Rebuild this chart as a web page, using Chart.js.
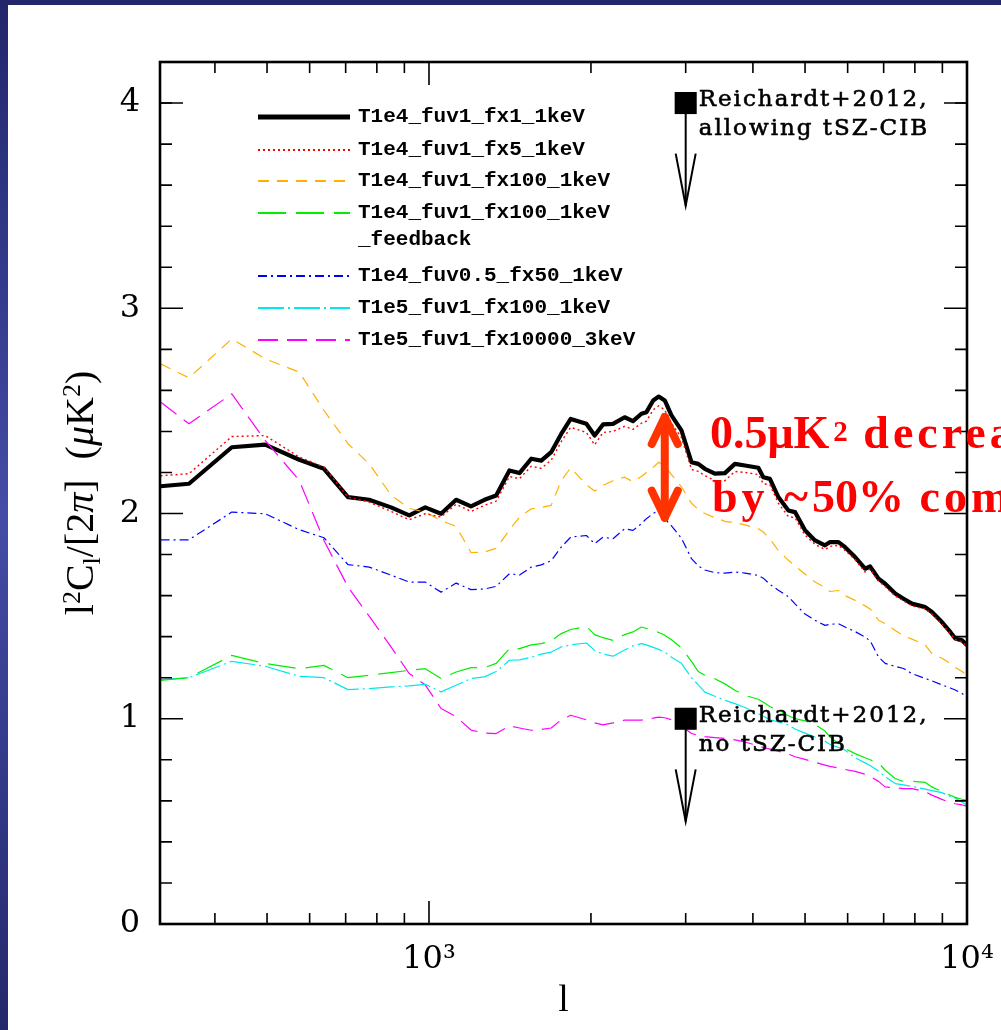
<!DOCTYPE html>
<html><head><meta charset="utf-8">
<script src="https://cdn.jsdelivr.net/npm/chart.js@4.4.1/dist/chart.umd.min.js"></script>
<style>html,body{margin:0;padding:0;background:#fff;overflow:hidden}canvas{display:block}</style>
</head><body>
<canvas id="c" width="1001" height="1030"></canvas>
<script>
// ---------- data ----------
const lValues = [317, 358, 430, 496, 574, 638, 707, 774, 850, 919, 984, 1053, 1123, 1197, 1268, 1333, 1411, 1473, 1549, 1617, 1687, 1761, 1834, 1961, 2032, 2106, 2198, 2310, 2394, 2482, 2536, 2610, 2673, 2743, 2823, 2946, 3075, 3166, 3256, 3399, 3548, 3703, 3866, 4094, 4182, 4302, 4460, 4656, 4790, 4999, 5218, 5446, 5566, 5769, 5935, 6194, 6465, 6605, 6847, 7045, 7354, 7623, 7899, 8363, 8606, 8982, 9309, 9510, 9788, 10000];

const T1e4_fuv1_fx1_1keV = [2.133, 2.145, 2.323, 2.336, 2.262, 2.218, 2.080, 2.067, 2.030, 1.991,
  2.030, 1.999, 2.067, 2.035, 2.067, 2.088, 2.210, 2.197, 2.267, 2.258,
  2.299, 2.388, 2.461, 2.437, 2.380, 2.434, 2.437, 2.469, 2.450, 2.486,
  2.494, 2.551, 2.570, 2.551, 2.478, 2.405, 2.250, 2.242, 2.218, 2.194,
  2.197, 2.242, 2.234, 2.223, 2.177, 2.169, 2.080, 2.015, 2.007, 1.918,
  1.869, 1.845, 1.861, 1.861, 1.836, 1.788, 1.731, 1.742, 1.683, 1.658,
  1.610, 1.585, 1.561, 1.544, 1.520, 1.471, 1.423, 1.391, 1.382, 1.358];

const T1e4_fuv1_fx5_1keV = [2.184, 2.194, 2.375, 2.380, 2.275, 2.226, 2.080, 2.056, 2.010, 1.970,
  1.999, 1.983, 2.045, 2.010, 2.040, 2.060, 2.180, 2.170, 2.230, 2.220,
  2.260, 2.350, 2.420, 2.395, 2.335, 2.395, 2.400, 2.425, 2.410, 2.440,
  2.450, 2.505, 2.525, 2.505, 2.440, 2.370, 2.215, 2.205, 2.185, 2.160,
  2.160, 2.205, 2.200, 2.190, 2.145, 2.140, 2.050, 1.985, 1.980, 1.895,
  1.850, 1.825, 1.840, 1.845, 1.820, 1.775, 1.715, 1.730, 1.670, 1.645,
  1.598, 1.575, 1.550, 1.535, 1.510, 1.462, 1.415, 1.385, 1.375, 1.352];

const T1e4_fuv1_fx100_1keV = [2.729, 2.661, 2.851, 2.754, 2.689, 2.502, 2.340, 2.242, 2.090, 2.025,
  2.007, 1.966, 1.937, 1.810, 1.812, 1.830, 1.920, 1.982, 2.023, 2.030,
  2.040, 2.160, 2.223, 2.140, 2.110, 2.137, 2.160, 2.177, 2.155, 2.180,
  2.200, 2.225, 2.250, 2.230, 2.190, 2.130, 2.050, 2.020, 2.000, 1.980,
  1.962, 1.955, 1.945, 1.926, 1.910, 1.875, 1.820, 1.772, 1.745, 1.705,
  1.666, 1.640, 1.620, 1.625, 1.600, 1.577, 1.550, 1.535, 1.480, 1.463,
  1.430, 1.405, 1.388, 1.360, 1.317, 1.295, 1.270, 1.250, 1.230, 1.212];

const T1e4_fuv1_fx100_1keV_feedback = [1.187, 1.200, 1.309, 1.269, 1.244, 1.260, 1.200, 1.212, 1.225, 1.236,
  1.244, 1.196, 1.228, 1.249, 1.249, 1.270, 1.342, 1.342, 1.360, 1.366,
  1.380, 1.415, 1.435, 1.450, 1.410, 1.395, 1.382, 1.410, 1.423, 1.447,
  1.440, 1.432, 1.420, 1.407, 1.385, 1.345, 1.280, 1.230, 1.212, 1.195,
  1.170, 1.139, 1.114, 1.095, 1.080, 1.060, 1.040, 1.015, 1.001, 0.990,
  0.972, 0.940, 0.910, 0.880, 0.855, 0.830, 0.810, 0.800, 0.785, 0.749,
  0.709, 0.694, 0.695, 0.690, 0.668, 0.645, 0.627, 0.617, 0.608, 0.603];

const T1e4_fuv05_fx50_1keV = [1.872, 1.872, 2.007, 1.999, 1.921, 1.882, 1.751, 1.739, 1.700, 1.666,
  1.666, 1.617, 1.661, 1.629, 1.632, 1.645, 1.707, 1.700, 1.739, 1.750,
  1.770, 1.836, 1.885, 1.893, 1.853, 1.885, 1.877, 1.926, 1.918, 1.950,
  1.975, 2.000, 2.015, 1.975, 1.940, 1.880, 1.780, 1.745, 1.725, 1.712,
  1.710, 1.715, 1.710, 1.698, 1.685, 1.655, 1.626, 1.595, 1.560, 1.510,
  1.480, 1.455, 1.460, 1.463, 1.447, 1.425, 1.398, 1.380, 1.301, 1.270,
  1.255, 1.245, 1.220, 1.196, 1.185, 1.165, 1.150, 1.140, 1.123, 1.106];

const T1e5_fuv1_fx100_1keV = [1.191, 1.200, 1.280, 1.256, 1.207, 1.200, 1.142, 1.147, 1.155, 1.160,
  1.168, 1.131, 1.163, 1.196, 1.204, 1.230, 1.285, 1.287, 1.300, 1.315,
  1.325, 1.350, 1.360, 1.369, 1.333, 1.315, 1.305, 1.335, 1.355, 1.366,
  1.360, 1.348, 1.338, 1.325, 1.300, 1.270, 1.200, 1.165, 1.130, 1.110,
  1.090, 1.074, 1.055, 1.025, 1.012, 0.995, 0.985, 0.970, 0.950, 0.930,
  0.911, 0.890, 0.875, 0.860, 0.847, 0.810, 0.785, 0.772, 0.745, 0.717,
  0.684, 0.678, 0.670, 0.657, 0.650, 0.640, 0.622, 0.612, 0.595, 0.579];

const T1e5_fuv1_fx10000_3keV = [2.543, 2.437, 2.583, 2.356, 2.161, 1.869, 1.642, 1.500, 1.350, 1.220,
  1.165, 1.050, 1.010, 0.945, 0.930, 0.928, 0.965, 0.955, 0.944, 0.948,
  0.955, 0.995, 1.017, 0.995, 0.980, 0.970, 0.980, 0.993, 0.993, 0.993,
  0.998, 1.003, 1.008, 1.005, 0.995, 0.965, 0.928, 0.920, 0.913, 0.908,
  0.904, 0.897, 0.887, 0.868, 0.860, 0.852, 0.842, 0.828, 0.815, 0.802,
  0.788, 0.774, 0.768, 0.760, 0.753, 0.744, 0.730, 0.719, 0.695, 0.668,
  0.663, 0.660, 0.660, 0.645, 0.628, 0.607, 0.592, 0.586, 0.580, 0.574];

const seriesLabels = ['T1e4_fuv1_fx1_1keV', 'T1e4_fuv1_fx5_1keV', 'T1e4_fuv1_fx100_1keV',
  'T1e4_fuv1_fx100_1keV\n_feedback', 'T1e4_fuv0.5_fx50_1keV', 'T1e5_fuv1_fx100_1keV', 'T1e5_fuv1_fx10000_3keV'];

// Reichardt+2012 upper limits
const limitL = [3000, 3000];
const limitValue = [4.0, 1.0];
const limitTip = [3.5, 0.5];
const limitText = [['Reichardt+2012,', 'allowing tSZ-CIB'], ['Reichardt+2012,', 'no tSZ-CIB']];

// decrease arrow + text
const decreaseL = 2743;
const decreaseTop = 2.485;
const decreaseBottom = 1.965;
const decreaseLine1 = ['0.5\u03bcK', '2', ' decrease'];
const decreaseLine2 = ['by ~', '50%', ' compared'];

// axes
const xMin = 316.23, xMax = 10000;
const yMin = 0, yMax = 4.2;
const yTickLabels = ['0', '1', '2', '3', '4'];
const yMajorTicks = [1, 2, 3, 4];
const yMinorTicks = [0.2, 0.4, 0.6, 0.8, 1.2, 1.4, 1.6, 1.8, 2.2, 2.4, 2.6, 2.8, 3.2, 3.4, 3.6, 3.8, 4.0, 4.2];
const xMajorTicks = [1000];
const xMinorTicks = [400, 500, 600, 700, 800, 900, 2000, 3000, 4000, 5000, 6000, 7000, 8000, 9000];
const xTickLabels = { 1000: '10\u00b3', 10000: '10\u2074' };
const xTitle = 'l';

// ---------- chart ----------
const pts = arr => lValues.map((l, i) => ({ x: l, y: arr[i] }));
const styles = [
  { c: '#000000', w: 4.2, d: [], o: 1 },
  { c: '#ff0000', w: 1.4, d: [2, 3], o: 0 },
  { c: '#ffb000', w: 1.2, d: [11, 8], o: 0 },
  { c: '#00ee00', w: 1.2, d: [28, 10], o: 0 },
  { c: '#0000ff', w: 1.2, d: [9, 4, 2, 4], o: 0 },
  { c: '#00e8e8', w: 1.2, d: [26, 4, 2, 4], o: 0 },
  { c: '#ff00ff', w: 1.2, d: [20, 9], o: 0 }
];
const seriesData = [T1e4_fuv1_fx1_1keV, T1e4_fuv1_fx5_1keV, T1e4_fuv1_fx100_1keV,
  T1e4_fuv1_fx100_1keV_feedback, T1e4_fuv05_fx50_1keV, T1e5_fuv1_fx100_1keV, T1e5_fuv1_fx10000_3keV];

const datasets = seriesData.map((arr, i) => ({
  type: 'line', label: seriesLabels[i], data: pts(arr),
  borderColor: styles[i].c, borderWidth: styles[i].w, borderDash: styles[i].d,
  pointRadius: 0, tension: 0, fill: false, order: styles[i].o, isSeries: true,
  borderJoinStyle: 'round'
}));
datasets.push({
  type: 'scatter', label: 'Reichardt+2012',
  data: limitL.map((l, i) => ({ x: l, y: limitValue[i] })),
  pointStyle: 'rect', pointRadius: 15.6, backgroundColor: '#000', borderColor: '#000', borderWidth: 0, order: -1
});

const serif = '"Liberation Serif", "Times New Roman", serif';
const tickFont = '"DejaVu Serif", serif';

function setLS(ctx, v) { try { ctx.letterSpacing = v; } catch (e) {} }

const framePlugin = {
  id: 'frame',
  beforeDraw(chart) {
    const ctx = chart.ctx;
    ctx.save();
    ctx.fillStyle = '#ffffff';
    ctx.fillRect(0, 0, chart.width, chart.height);
    const g = ctx.createLinearGradient(0, 0, 0, chart.height);
    g.addColorStop(0, '#22266a');
    g.addColorStop(0.5, '#444ca6');
    g.addColorStop(1, '#24286a');
    ctx.fillStyle = g;
    ctx.fillRect(0, 0, 8, chart.height);
    ctx.fillStyle = '#23276a';
    ctx.fillRect(0, 0, chart.width, 5);
    ctx.restore();
  },
  afterDraw(chart) {
    const ctx = chart.ctx, ca = chart.chartArea, xs = chart.scales.x, ys = chart.scales.y;
    ctx.save();
    // ticks
    ctx.strokeStyle = '#000'; ctx.lineWidth = 1.6; ctx.lineCap = 'butt';
    const vt = (px, len) => {
      ctx.beginPath(); ctx.moveTo(px, ca.bottom); ctx.lineTo(px, ca.bottom - len);
      ctx.moveTo(px, ca.top); ctx.lineTo(px, ca.top + len); ctx.stroke();
    };
    const ht = (py, len) => {
      ctx.beginPath(); ctx.moveTo(ca.left, py); ctx.lineTo(ca.left + len, py);
      ctx.moveTo(ca.right, py); ctx.lineTo(ca.right - len, py); ctx.stroke();
    };
    xMinorTicks.forEach(l => vt(xs.getPixelForValue(l), 11));
    xMajorTicks.forEach(l => vt(xs.getPixelForValue(l), 23));
    yMinorTicks.forEach(v => ht(ys.getPixelForValue(v), 12));
    yMajorTicks.forEach(v => ht(ys.getPixelForValue(v), 23));
    // frame
    ctx.lineWidth = 2.6;
    ctx.strokeRect(ca.left, ca.top, ca.right - ca.left, ca.bottom - ca.top);

    // legend
    const rows = [117, 150, 181, 213, 276, 308, 340];
    ctx.font = 'bold 21px "Liberation Mono", "DejaVu Sans Mono", monospace';
    ctx.textBaseline = 'middle'; ctx.textAlign = 'left';
    chart.data.datasets.filter(d => d.isSeries).forEach((d, i) => {
      const y = rows[i];
      ctx.save();
      ctx.strokeStyle = d.borderColor;
      ctx.lineWidth = i === 0 ? 5 : 2.2;
      ctx.setLineDash(d.borderDash);
      ctx.beginPath(); ctx.moveTo(258, y); ctx.lineTo(350, y); ctx.stroke();
      ctx.restore();
      ctx.fillStyle = '#000';
      d.label.split('\n').forEach((t, k) => ctx.fillText(t, 358, y + k * 27));
    });

    // Reichardt limits: arrows + text
    ctx.strokeStyle = '#000'; ctx.lineWidth = 2;
    limitL.forEach((l, i) => {
      const px = xs.getPixelForValue(l);
      const py = ys.getPixelForValue(limitValue[i]);
      const pt = ys.getPixelForValue(limitTip[i]);
      ctx.strokeStyle = '#000'; ctx.lineWidth = 2;
      ctx.beginPath(); ctx.moveTo(px, py); ctx.lineTo(px, pt); ctx.stroke();
      ctx.beginPath(); ctx.moveTo(px - 10, pt - 52); ctx.lineTo(px, pt); ctx.lineTo(px + 10, pt - 52); ctx.stroke();
      ctx.fillStyle = '#000';
      ctx.font = '23px "DejaVu Serif", serif';
      ctx.textBaseline = 'alphabetic';
      setLS(ctx, '2px');
      ctx.lineWidth = 0.6;
      [[limitText[i][0], py + 3], [limitText[i][1], py + 32]].forEach(([t, yy]) => {
        ctx.fillText(t, px + 13, yy);
        ctx.strokeText(t, px + 13, yy);
      });
      setLS(ctx, '0px');
    });

    // red double arrow
    const ax = xs.getPixelForValue(decreaseL);
    const at = ys.getPixelForValue(decreaseTop), ab = ys.getPixelForValue(decreaseBottom);
    ctx.strokeStyle = '#ff3300'; ctx.lineWidth = 8; ctx.lineCap = 'round'; ctx.lineJoin = 'round';
    ctx.beginPath(); ctx.moveTo(ax, at + 3); ctx.lineTo(ax, ab - 3); ctx.stroke();
    ctx.beginPath(); ctx.moveTo(ax - 13, at + 30); ctx.lineTo(ax, at + 3); ctx.lineTo(ax + 13, at + 30); ctx.stroke();
    ctx.beginPath(); ctx.moveTo(ax - 13, ab - 30); ctx.lineTo(ax, ab - 3); ctx.lineTo(ax + 13, ab - 30); ctx.stroke();

    // red text
    ctx.fillStyle = '#ff0000'; ctx.textBaseline = 'alphabetic'; ctx.textAlign = 'left';
    let x0 = 710;
    ctx.font = 'bold 46px ' + serif;
    ctx.fillText(decreaseLine1[0], x0, 448);
    x0 += ctx.measureText(decreaseLine1[0]).width + 4;
    ctx.font = 'bold 29px ' + serif;
    ctx.fillText(decreaseLine1[1], x0, 441);
    x0 += ctx.measureText(decreaseLine1[1]).width;
    ctx.font = 'bold 46px ' + serif;
    setLS(ctx, '4px');
    ctx.fillText(decreaseLine1[2], x0, 448);
    // line 2
    x0 = 712;
    ctx.fillText(decreaseLine2[0], x0, 512);
    x0 += ctx.measureText(decreaseLine2[0]).width;
    setLS(ctx, '0px');
    ctx.fillText(decreaseLine2[1], x0, 512);
    x0 += ctx.measureText(decreaseLine2[1]).width;
    setLS(ctx, '4px');
    ctx.fillText(decreaseLine2[2], x0, 512);
    setLS(ctx, '0px');

    // y title
    const big = '40px ' + serif, small = '26px ' + serif, ital = 'italic 40px ' + serif;
    const parts = [
      { t: 'l', f: big, dy: 0 }, { t: '2', f: small, dy: -13 }, { t: 'C', f: big, dy: 0 },
      { t: 'l', f: small, dy: 7 }, { t: '/[2', f: big, dy: 0 }, { t: '\u03c0', f: ital, dy: 0 },
      { t: ']  (', f: big, dy: 0 }, { t: '\u03bc', f: ital, dy: 0 }, { t: 'K', f: big, dy: 0 },
      { t: '2', f: small, dy: -13 }, { t: ')', f: big, dy: 0 }
    ];
    let total = 0;
    parts.forEach(p => { ctx.font = p.f; p.w = ctx.measureText(p.t).width; total += p.w; });
    ctx.save();
    ctx.fillStyle = '#000';
    const cy = (ca.top + ca.bottom) / 2;
    ctx.translate(93, cy + total / 2);
    ctx.rotate(-Math.PI / 2);
    let xx = 0;
    parts.forEach(p => { ctx.font = p.f; ctx.fillText(p.t, xx, p.dy); xx += p.w; });
    ctx.restore();
    ctx.restore();
  }
};

new Chart(document.getElementById('c'), {
  data: { datasets },
  options: {
    responsive: false, animation: false, devicePixelRatio: 1,
    layout: { padding: { left: 30, top: 62, right: 34, bottom: 0 } },
    plugins: { legend: { display: false }, tooltip: { enabled: false } },
    scales: {
      x: {
        type: 'logarithmic', min: xMin, max: xMax,
        grid: { display: false, drawTicks: false }, border: { display: false },
        ticks: {
          autoSkip: false, maxRotation: 0, minRotation: 0, padding: 16, color: '#000',
          font: { family: tickFont, size: 32 },
          callback: v => {
            const k = Object.keys(xTickLabels).find(t => Math.abs(v - Number(t)) < 0.5);
            return k ? xTickLabels[k] : '';
          }
        },
        title: { display: true, text: xTitle, color: '#000', font: { family: serif, size: 38 }, padding: { top: 0, bottom: 6 } },
        afterFit: s => { s.height = 106; s.paddingLeft = 0; s.paddingRight = 0; }
      },
      y: {
        type: 'linear', min: yMin, max: yMax,
        grid: { display: false, drawTicks: false }, border: { display: false },
        ticks: {
          stepSize: 1, padding: 20, color: '#000', font: { family: tickFont, size: 32 },
          callback: v => (Math.abs(v - Math.round(v)) < 1e-6 ? yTickLabels[Math.round(v)] : '')
        },
        afterFit: s => { s.width = 130; s.paddingTop = 0; s.paddingBottom = 0; }
      }
    }
  },
  plugins: [framePlugin]
});
</script>
</body></html>
